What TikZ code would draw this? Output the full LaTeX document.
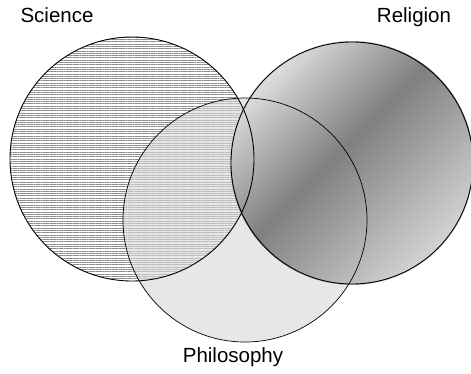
\documentclass[tikz,border=0pt]{standalone}
\usepackage{fontspec}
\setmainfont{Liberation Sans}
\usetikzlibrary{positioning,patterns.meta}

% diagonal band for the Religion disc
\pgfdeclarehorizontalshading{relband}{100bp}{color(0bp)=(black!13); color(25bp)=(black!13); color(46.5bp)=(black!50); color(75bp)=(black!17); color(100bp)=(black!17)}

\begin{document}
\begin{tikzpicture}[x=1pt, y=-1pt,
	disc/.style={circle, minimum size=244pt, inner sep=0pt},
	ring/.style={draw=black, line width=0.8pt},
	tag/.style={inner sep=0pt, font=\fontsize{20.5}{24}\selectfont}]
	\useasboundingbox (0,0) rectangle (471,373);
	
	% 1. the three discs (fills only)
	% Science: fine horizontal hatching
	\node [disc, pattern={Lines[distance=2.3pt, line width=0.85pt, angle=0]}, pattern color=black!45] (sci) at (132,159) {};
	% Philosophy: light see-through grey
	\node [disc, fill=black!15, fill opacity=0.62] (phil) at (245,220) {};
	% Religion: shaded, on top
	\node [disc, shading=relband, shading angle=-45] (rel) at (352,163) {};
	
	% 2. outlines over everything
	\draw [ring, line width=0.9pt] (sci.center) circle [radius=122pt];
	\draw [ring, line width=0.9pt] (rel.center) circle [radius=121pt];
	\draw [ring, line width=0.7pt] (phil.center) circle [radius=122pt];
	
	% 3. labels
	\node [tag, anchor=base] (sci label) at (57,22) {Science};
	\node [tag, anchor=base] (rel label) at (414,22) {Religion};
	\node [tag, below=5pt of phil, xshift=-12pt] (phil label) {Philosophy};
\end{tikzpicture}
\end{document}
